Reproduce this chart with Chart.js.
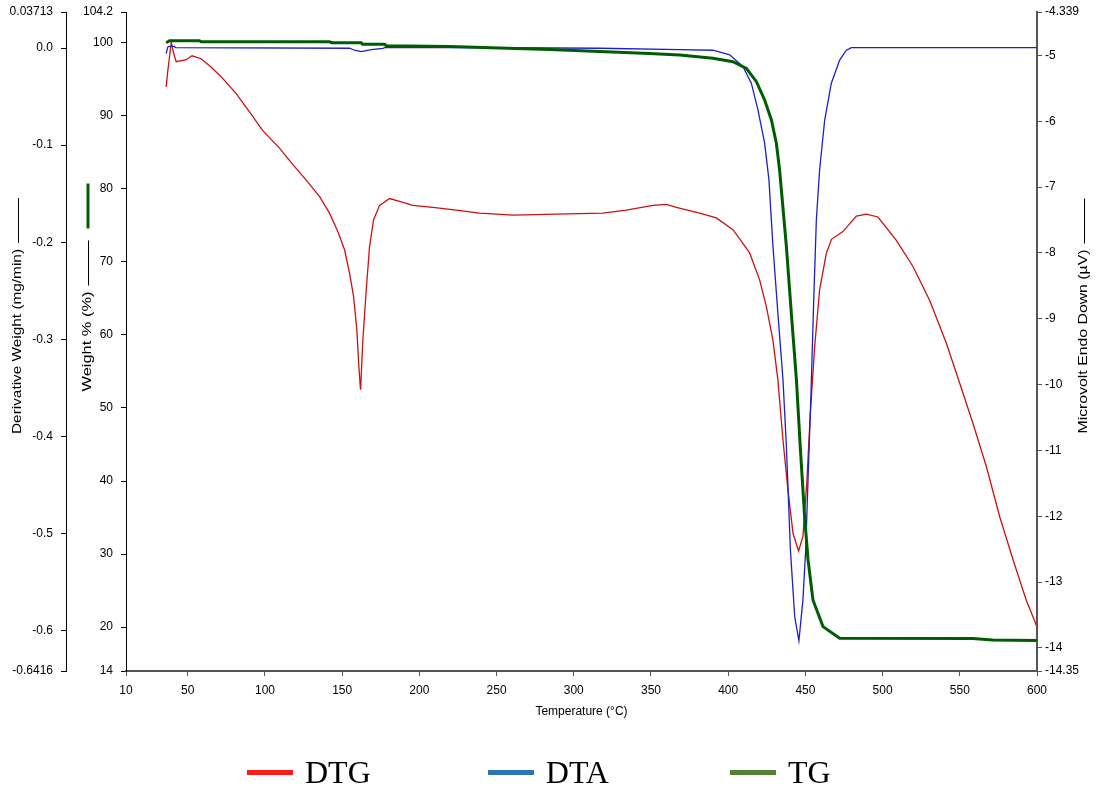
<!DOCTYPE html>
<html>
<head>
<meta charset="utf-8">
<script src="https://cdn.jsdelivr.net/npm/chart.js@4.4.1/dist/chart.umd.min.js"></script>
<style>
body { margin: 0; background: #fff; }
#wrap { position: relative; width: 1096px; height: 796px; }
#legenda { position: absolute; left: 247px; top: 754px; display: flex; align-items: center;
  font-family: "Liberation Serif", serif; font-size: 32px; line-height: 36px; color: #000; }
.item { display: flex; align-items: center; margin-right: 117px; }
.item:nth-child(2) { margin-right: 121px; }
.linha { width: 46px; height: 5px; margin-right: 12px; }
</style>
</head>
<body>
<div id="wrap">
  <canvas id="grafico" width="1096" height="796"></canvas>
  <div id="legenda"></div>
</div>
<script>
// DADOS
var tempDTG = [36.0, 37.1, 38.2, 39.3, 40.8, 42.5, 49.0, 52.8, 58.7, 65.4, 71.9, 81.4, 91.0, 98.6,
    109.4, 118.1, 126.7, 135.4, 141.8, 147.2, 151.6, 154.8, 157.4, 159.5, 160.8, 161.9, 163.4,
    165.6, 167.7, 170.3, 174.2, 180.7, 187.2, 195.8, 208.7, 223.9, 239.0, 260.6, 288.7, 318.9,
    334.0, 351.3, 359.9, 366.4, 381.5, 392.3, 403.1, 413.9, 420.4, 424.7, 429.0, 432.2, 435.5,
    438.7, 442.0, 445.6, 448.4, 451.0, 453.2, 456.0, 459.2, 463.6, 466.9, 474.3, 483.0, 489.5,
    497.0, 508.9, 519.7, 530.5, 541.3, 549.9, 558.6, 567.2, 575.9, 584.5, 593.1, 600.0];
var valoresDTG = [-0.040, -0.023, -0.009, 0.006, -0.005, -0.014, -0.012, -0.008, -0.011, -0.020,
    -0.030, -0.047, -0.068, -0.085, -0.103, -0.120, -0.136, -0.153, -0.170, -0.189, -0.208,
    -0.232, -0.256, -0.290, -0.328, -0.352, -0.301, -0.249, -0.205, -0.177, -0.162, -0.155,
    -0.158, -0.162, -0.164, -0.167, -0.170, -0.172, -0.171, -0.170, -0.167, -0.162, -0.161,
    -0.164, -0.170, -0.175, -0.187, -0.211, -0.239, -0.266, -0.301, -0.342, -0.404, -0.455,
    -0.500, -0.518, -0.503, -0.445, -0.376, -0.308, -0.249, -0.211, -0.197, -0.189, -0.173,
    -0.171, -0.174, -0.198, -0.225, -0.260, -0.304, -0.345, -0.387, -0.431, -0.483, -0.527,
    -0.569, -0.596];

var tempDTA = [36.0, 37.1, 38.2, 41.4, 42.1, 154.8, 158.0, 162.4, 168.8, 176.4, 177.5, 252.0,
    316.7, 368.6, 390.1, 401.0, 409.6, 415.0, 419.3, 423.6, 426.4, 429.0, 432.2, 435.5, 437.7,
    440.3, 443.1, 445.8, 448.4, 450.2, 451.7, 453.5, 455.4, 457.1, 459.2, 462.5, 466.8, 472.2,
    476.5, 479.8, 600.0];
var valoresDTA = [-4.97, -4.87, -4.86, -4.86, -4.88, -4.89, -4.92, -4.94, -4.91, -4.89, -4.88,
    -4.88, -4.89, -4.91, -4.92, -4.99, -5.17, -5.42, -5.83, -6.33, -6.89, -7.90, -8.92, -9.93,
    -10.94, -12.51, -13.53, -13.89, -13.27, -12.51, -11.45, -10.23, -8.71, -7.50, -6.74, -5.98,
    -5.42, -5.07, -4.92, -4.88, -4.88];

var tempTG = [36.0, 38.2, 57.6, 58.7, 141.8, 143.1, 162.4, 163.2, 177.5, 178.6, 219.6, 252.0,
    284.4, 316.7, 349.1, 368.6, 390.1, 403.1, 411.8, 418.3, 423.6, 428.0, 431.2, 433.3, 437.7,
    440.9, 444.2, 446.8, 449.5, 451.7, 454.9, 461.4, 472.2, 558.4, 571.3, 600.0];
var valoresTG = [100.0, 100.27, 100.27, 100.13, 100.13, 100.0, 100.0, 99.78, 99.78, 99.59, 99.48,
    99.27, 99.07, 98.79, 98.52, 98.31, 97.86, 97.40, 96.49, 94.66, 92.16, 89.42, 86.23, 82.57,
    72.08, 62.96, 53.83, 44.25, 35.12, 29.24, 23.72, 20.07, 18.48, 18.45, 18.24, 18.17];

// EIXOS
var ticksX = [10, 50, 100, 150, 200, 250, 300, 350, 400, 450, 500, 550, 600];
var ticksDTG = [0.03713, 0, -0.1, -0.2, -0.3, -0.4, -0.5, -0.6, -0.6416];
var rotulosDTG = ['0.03713', '0.0', '-0.1', '-0.2', '-0.3', '-0.4', '-0.5', '-0.6', '-0.6416'];
var ticksPeso = [104.2, 100, 90, 80, 70, 60, 50, 40, 30, 20, 14];
var rotulosPeso = ['104.2', '100', '90', '80', '70', '60', '50', '40', '30', '20', '14'];
var ticksDTA = [-4.339, -5, -6, -7, -8, -9, -10, -11, -12, -13, -14, -14.35];
var rotulosDTA = ['-4.339', '-5', '-6', '-7', '-8', '-9', '-10', '-11', '-12', '-13', '-14', '-14.35'];

var nomesLegenda = ['DTG', 'DTA', 'TG'];
var coresLegenda = ['#ff1a1a', '#2e75b6', '#548235'];

var FONTE = '"Liberation Sans", Arial, sans-serif';

function pontos(xs, ys) {
    return xs.map(function(x, i) { return {x: x, y: ys[i]}; });
}

function fixarTicks(valores) {
    return function(scale) {
        scale.ticks = valores.map(function(v) { return {value: v}; });
    };
}

function eixoY(pos, min, max, valores, rotulos, largura, pad, corBorda, espBorda) {
    return {
        type: 'linear',
        position: pos,
        min: min,
        max: max,
        afterBuildTicks: fixarTicks(valores),
        afterFit: function(scale) {
            scale.width = largura;
            scale.paddingTop = 0; // nao empurrar a area do grafico para baixo
            scale.paddingBottom = 0;
        },
        grid: { display: true, drawOnChartArea: false, drawTicks: true, tickLength: 5, color: corBorda },
        border: { display: true, color: corBorda, width: espBorda },
        ticks: {
            autoSkip: false,
            padding: pad,
            color: '#000',
            font: { family: FONTE, size: 12 },
            callback: function(v, i) { return rotulos[i]; }
        }
    };
}

// titulos verticais (lidos de baixo para cima) com o traço indicador
function tituloLateral(ctx, texto, x, meio, comprimento, corMarca) {
    ctx.save();
    ctx.font = '12px ' + FONTE;
    var larg = ctx.measureText(texto).width;
    var esc = comprimento / larg;
    ctx.translate(x, meio);
    ctx.rotate(-Math.PI / 2);
    ctx.scale(esc, 1);
    ctx.fillStyle = '#000';
    ctx.textAlign = 'center';
    ctx.textBaseline = 'middle';
    ctx.fillText(texto, 0, 0);
    ctx.restore();

    var topoTexto = meio - comprimento / 2;
    ctx.save();
    ctx.strokeStyle = '#000';
    ctx.lineWidth = 1;
    ctx.beginPath();
    ctx.moveTo(x + 0.5, topoTexto - 6);
    ctx.lineTo(x + 0.5, topoTexto - 51);
    ctx.stroke();
    if (corMarca) {
        ctx.strokeStyle = corMarca;
        ctx.lineWidth = 3;
        ctx.beginPath();
        ctx.moveTo(x, topoTexto - 63);
        ctx.lineTo(x, topoTexto - 108);
        ctx.stroke();
    }
    ctx.restore();
}

var pluginTitulos = {
    id: 'titulosLaterais',
    afterDraw: function(chart) {
        var ctx = chart.ctx;
        var area = chart.chartArea;
        var meio = (area.top + area.bottom) / 2;
        tituloLateral(ctx, 'Derivative Weight (mg/min)', 18, meio, 185, null);
        tituloLateral(ctx, 'Weight % (%)', 88, meio, 100, '#005c00');
        tituloLateral(ctx, 'Microvolt Endo Down (µV)', 1084, meio, 184, null);
    }
};

var ctxGrafico = document.getElementById('grafico').getContext('2d');

var dadosGrafico = {
    datasets: [{
        label: 'DTG',
        data: pontos(tempDTG, valoresDTG),
        yAxisID: 'yDTG',
        borderColor: '#cc1111',
        borderWidth: 1.3,
        pointRadius: 0,
        order: 3
    }, {
        label: 'DTA',
        data: pontos(tempDTA, valoresDTA),
        yAxisID: 'yDTA',
        borderColor: '#1f1fc4',
        borderWidth: 1.3,
        pointRadius: 0,
        order: 2
    }, {
        label: 'TG',
        data: pontos(tempTG, valoresTG),
        yAxisID: 'yPeso',
        borderColor: '#005c00',
        borderWidth: 3,
        pointRadius: 0,
        order: 1
    }]
};

var opcoesGrafico = {
    responsive: false,
    animation: false,
    layout: { padding: { top: 12, bottom: 70, left: 0, right: 0 } },
    scales: {
        x: {
            type: 'linear',
            min: 10,
            max: 600,
            afterBuildTicks: fixarTicks(ticksX),
            afterFit: function(scale) { scale.height = 55; },
            grid: { display: true, drawOnChartArea: false, drawTicks: true, tickLength: 5, color: '#555' },
            border: { display: true, color: '#555', width: 2 },
            ticks: {
                autoSkip: false,
                maxRotation: 0,
                padding: 7,
                color: '#000',
                font: { family: FONTE, size: 12 }
            },
            title: {
                display: true,
                text: 'Temperature (°C)',
                color: '#000',
                font: { family: FONTE, size: 12 },
                padding: { top: 0, bottom: 7 }
            }
        },
        yDTG: Object.assign(eixoY('left', -0.6416, 0.03713, ticksDTG, rotulosDTG, 66, 8, '#000', 1), { weight: 2 }),
        yPeso: Object.assign(eixoY('left', 14, 104.2, ticksPeso, rotulosPeso, 60, 8, '#000', 1), { weight: 1 }),
        yDTA: eixoY('right', -14.35, -4.339, ticksDTA, rotulosDTA, 59, 3, '#555', 2)
    },
    plugins: {
        legend: { display: false },
        tooltip: { enabled: false }
    }
};

var grafico = new Chart(ctxGrafico, {
    type: 'line',
    data: dadosGrafico,
    options: opcoesGrafico,
    plugins: [pluginTitulos]
});

// LEGENDA
var legenda = document.getElementById('legenda');
nomesLegenda.forEach(function(nome, i) {
    var item = document.createElement('div');
    item.className = 'item';
    var linha = document.createElement('span');
    linha.className = 'linha';
    linha.style.background = coresLegenda[i];
    var txt = document.createElement('span');
    txt.textContent = nome;
    item.appendChild(linha);
    item.appendChild(txt);
    legenda.appendChild(item);
});
</script>
</body>
</html>
